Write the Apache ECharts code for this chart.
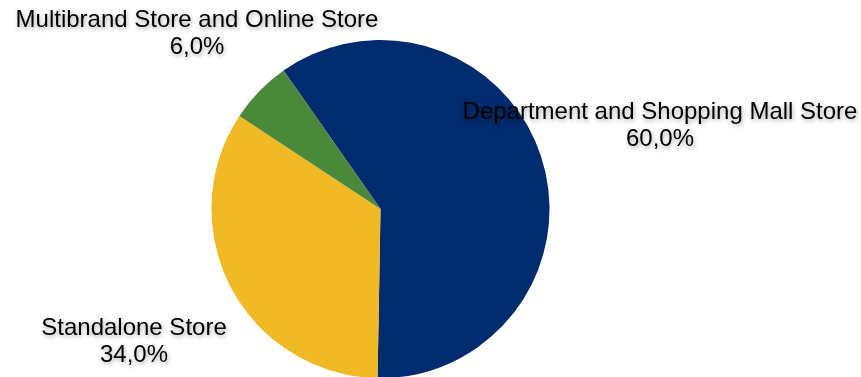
<!DOCTYPE html>
<html>
<head>
<meta charset="utf-8">
<style>
  html, body { margin: 0; padding: 0; background: #ffffff; }
  #chart { width: 861px; height: 377px; }
</style>
<script src="https://cdn.jsdelivr.net/npm/echarts@6/dist/echarts.min.js"></script>
</head>
<body>
<div id="chart"></div>
<script>
// Sales share by store channel
const categories = [
  'Department and Shopping Mall Store',
  'Standalone Store',
  'Multibrand Store and Online Store'
];
const shares = [60.0, 34.0, 6.0];
const colors = ['#002B6E', '#F2B926', '#4A893A'];

// Fixed anchor points for each slice label (centre of the text block)
const labelAnchors = [
  [660, 126],
  [134, 342],
  [197, 34]
];

const chart = echarts.init(document.getElementById('chart'), null, { renderer: 'canvas' });

chart.setOption({
  animation: false,
  series: [{
    type: 'pie',
    center: [380.5, 209],
    radius: 169,
    startAngle: 125,
    clockwise: true,
    avoidLabelOverlap: false,
    data: categories.map((name, i) => ({
      name: name,
      value: shares[i],
      itemStyle: { color: colors[i] }
    })),
    label: {
      show: true,
      position: 'outside',
      formatter: p => p.name + '\n' + p.value.toFixed(1).replace('.', ',') + '%',
      fontFamily: 'Liberation Sans, Arial, sans-serif',
      fontSize: 24,
      lineHeight: 27,
      color: '#000000',
      align: 'center',
      textShadowColor: 'rgba(0,0,0,0.35)',
      textShadowBlur: 4,
      textShadowOffsetX: 1,
      textShadowOffsetY: 2
    },
    labelLine: { show: false },
    labelLayout: params => ({
      x: labelAnchors[params.dataIndex][0],
      y: labelAnchors[params.dataIndex][1],
      align: 'center',
      verticalAlign: 'middle'
    })
  }]
});
</script>
</body>
</html>
